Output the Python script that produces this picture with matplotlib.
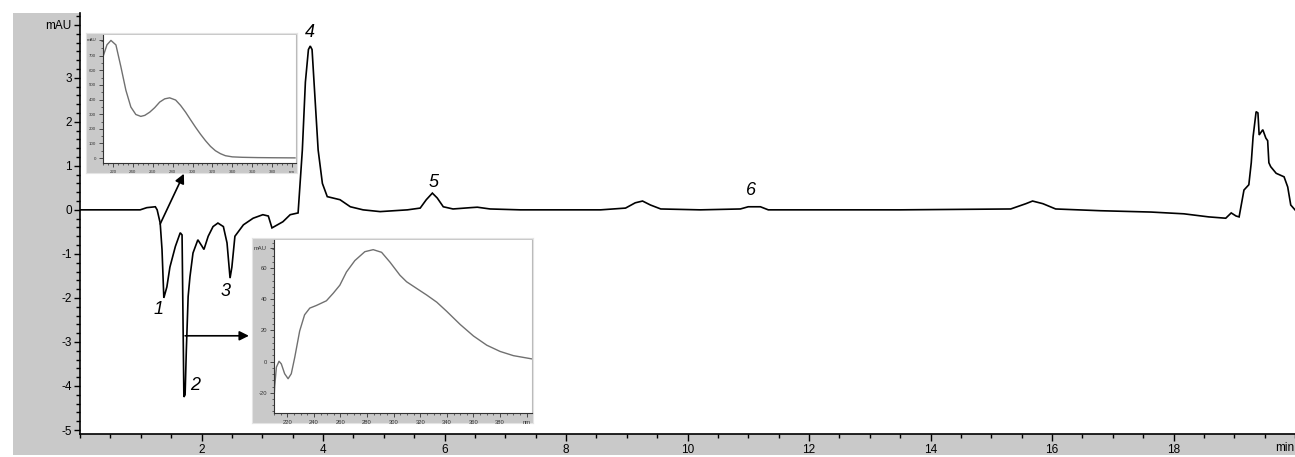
import matplotlib
matplotlib.use('Agg')
import matplotlib.pyplot as plt
from matplotlib.patches import Rectangle
from matplotlib.ticker import MultipleLocator, FixedLocator, FixedFormatter
import matplotlib.transforms as mtransforms

plt.rcParams['font.family'] = ['Liberation Sans', 'DejaVu Sans']

# ---- chromatogram (time in min, signal in mAU) ----
time_min = [0, 0.99, 1.10, 1.24, 1.27, 1.32, 1.35, 1.38, 1.43, 1.48, 1.57, 1.65, 1.68,
            1.71, 1.73, 1.75, 1.78, 1.81, 1.86, 1.94, 2.01, 2.04, 2.11, 2.19, 2.27,
            2.36, 2.42, 2.47, 2.50, 2.55, 2.69, 2.85, 3.01, 3.10, 3.16, 3.25, 3.34,
            3.46, 3.59, 3.66, 3.71, 3.76, 3.79, 3.82, 3.87, 3.92, 3.99, 4.07, 4.28,
            4.45, 4.66, 4.94, 5.39, 5.60, 5.70, 5.80, 5.88, 5.98, 6.14, 6.43, 6.54,
            6.75, 7.25, 8.57, 8.98, 9.14, 9.26, 9.39, 9.56, 10.21, 10.87, 11.0, 11.2,
            11.33, 13.5, 15.32, 15.57, 15.68, 15.85, 16.06, 16.8, 17.63, 18.17, 18.58,
            18.86, 18.95, 19.03, 19.08, 19.16, 19.24, 19.28, 19.31, 19.36, 19.39,
            19.41, 19.47, 19.52, 19.55, 19.57, 19.60, 19.69, 19.82, 19.88, 19.93, 20.0]
signal_mau = [0, 0, 0.05, 0.07, 0, -0.3, -0.9, -2.0, -1.75, -1.3, -0.83, -0.52, -0.57,
              -4.25, -4.2, -3.2, -1.97, -1.52, -0.98, -0.68, -0.83, -0.9, -0.6, -0.38, -0.3,
              -0.38, -0.75, -1.55, -1.3, -0.6, -0.34, -0.19, -0.11, -0.14, -0.41, -0.34, -0.27,
              -0.11, -0.07, 1.36, 2.9, 3.64, 3.72, 3.64, 2.5, 1.36, 0.6, 0.3, 0.23,
              0.07, 0, -0.04, 0, 0.04, 0.23, 0.38, 0.27, 0.07, 0.02, 0.05, 0.06,
              0.02, 0, 0, 0.04, 0.16, 0.2, 0.11, 0.02, 0, 0.02, 0.07, 0.07,
              0, 0, 0.02, 0.14, 0.2, 0.14, 0.02, -0.02, -0.05, -0.09, -0.16,
              -0.19, -0.07, -0.14, -0.16, 0.45, 0.57, 1.07, 1.66, 2.23, 2.2,
              1.7, 1.82, 1.63, 1.57, 1.07, 0.98, 0.83, 0.75, 0.52, 0.11, 0]

# ---- UV spectrum of peak 1 (inset, upper) ----
spec1_nm = [210, 214, 218, 223, 228, 233, 238, 243, 248, 252, 257, 262, 267, 272, 277,
            283, 288, 293, 298, 303, 308, 313, 318, 323, 328, 333, 340, 350, 365, 380, 403]
spec1_mau = [693, 775, 805, 774, 624, 464, 349, 298, 285, 292, 314, 345, 383, 405, 412,
             397, 360, 314, 262, 211, 163, 119, 80, 50, 30, 16, 8, 5, 3, 2, 1]

# ---- UV spectrum of peak 2 (inset, lower) ----
spec2_nm = [210, 210.5, 211.8, 213.8, 215.5, 218, 220.6, 223, 225.6, 229.3, 233, 236.9,
            241.9, 249.4, 254.5, 259.5, 264.5, 270.8, 278.3, 284.6, 290.9, 297.2, 304.7,
            309.7, 317.3, 324.8, 332.4, 339.9, 350, 360, 370, 380, 390, 404]
spec2_mau = [-24.6, -16, -3.6, 0.2, -1.5, -7.8, -11, -7.8, 2.7, 19.6, 30, 34.3,
             36, 39, 43.8, 49, 57.5, 64.8, 70.5, 71.8, 70.1, 63.8, 55.4,
             51.2, 46.9, 42.7, 38.1, 32.2, 23.8, 16.4, 10.5, 6.5, 3.8, 1.7]

peak_labels = ['1', '2', '3', '4', '5', '6']
peak_label_x = [1.29, 1.89, 2.40, 3.79, 5.82, 11.05]
peak_label_y = [-2.27, -3.98, -1.86, 4.02, 0.61, 0.43]

x_ticks = [2, 4, 6, 8, 10, 12, 14, 16, 18]
y_ticks = [-5, -4, -3, -2, -1, 0, 1, 2, 3]

W, H = 1295, 457
GRAY = '#c9c9c9'
fig = plt.figure(figsize=(W / 100, H / 100), dpi=100)
fig.patch.set_facecolor('white')


def fbox(x0, y0, x1, y1):
    return [x0 / W, 1 - y1 / H, (x1 - x0) / W, (y1 - y0) / H]


bg = Rectangle((13 / W, 1 - 455 / H), (W - 13) / W, (455 - 13) / H,
               transform=fig.transFigure, facecolor=GRAY, edgecolor='none', zorder=-10)
fig.patches.append(bg)

ax = fig.add_axes(fbox(80, 13, 1295, 434))
ax.set_facecolor('white')
ax.plot(time_min, signal_mau, color='black', lw=1.2, solid_joinstyle='miter')
ax.set_xlim(0, 20)
ax.set_ylim(-5.09, 4.47)
for s in ['top', 'right']:
    ax.spines[s].set_visible(False)
for s in ['left', 'bottom']:
    ax.spines[s].set_color('black')
    ax.spines[s].set_linewidth(1.2)

ax.yaxis.set_major_locator(FixedLocator(y_ticks + [4.2]))
ax.yaxis.set_major_formatter(FixedFormatter([str(v) for v in y_ticks] + ['mAU']))
ax.yaxis.set_minor_locator(MultipleLocator(0.2))
ax.xaxis.set_major_locator(FixedLocator(x_ticks))
ax.xaxis.set_major_formatter(FixedFormatter([str(v) for v in x_ticks]))
ax.xaxis.set_minor_locator(MultipleLocator(0.5))
ax.tick_params(axis='both', which='major', direction='out', length=5, width=1,
               labelsize=8.5, pad=2, colors='black')
ax.tick_params(axis='y', which='major', length=4)
ax.tick_params(axis='both', which='minor', direction='out', length=3, width=1)
trans = mtransforms.blended_transform_factory(ax.transData, ax.transAxes)
ax.text(19.98, -0.018, 'min', transform=trans, ha='right', va='top', fontsize=8.5)

for lab, lx, ly in zip(peak_labels, peak_label_x, peak_label_y):
    ax.text(lx, ly, lab, fontsize=13, style='italic', ha='center', va='center')

ax.annotate('', xy=(1.71, 0.82), xytext=(1.32, -0.32),
            arrowprops=dict(arrowstyle='-|>', color='black', lw=1.2, mutation_scale=14,
                            shrinkA=0, shrinkB=0))
ax.annotate('', xy=(2.78, -2.86), xytext=(1.73, -2.86),
            arrowprops=dict(arrowstyle='-|>', color='black', lw=1.2, mutation_scale=14,
                            shrinkA=0, shrinkB=0))


def make_inset(frame, box, nm, mau, ylim, yticks, ylabpos, yminor, fs):
    fa = fig.add_axes(frame)
    fa.set_facecolor(GRAY)
    fa.set_xticks([])
    fa.set_yticks([])
    for s in fa.spines.values():
        s.set_edgecolor('#e4e4e4')
        s.set_linewidth(0.8)
    ia = fig.add_axes(box)
    ia.set_facecolor('white')
    ia.plot(nm, mau, color='#707070', lw=1.0)
    ia.set_xlim(210, 404)
    ia.set_ylim(*ylim)
    ia.spines['top'].set_visible(False)
    ia.spines['right'].set_color('#bbbbbb')
    ia.spines['left'].set_color('#333333')
    ia.spines['bottom'].set_color('#333333')
    ia.spines['left'].set_linewidth(0.8)
    ia.spines['bottom'].set_linewidth(0.8)
    xt = [220, 240, 260, 280, 300, 320, 340, 360, 380, 400]
    ia.xaxis.set_major_locator(FixedLocator(xt))
    ia.xaxis.set_major_formatter(FixedFormatter([str(v) for v in xt[:-1]] + ['nm']))
    ia.xaxis.set_minor_locator(MultipleLocator(5))
    ia.yaxis.set_major_locator(FixedLocator(yticks + [ylabpos]))
    ia.yaxis.set_major_formatter(FixedFormatter([str(v) for v in yticks] + ['mAU']))
    ia.yaxis.set_minor_locator(MultipleLocator(yminor))
    ia.tick_params(axis='both', which='major', direction='out', length=3, width=0.6,
                   labelsize=fs, pad=2, colors='#333333')
    ia.tick_params(axis='both', which='minor', direction='out', length=1.5, width=0.5,
                   colors='#333333')
    return ia


make_inset(fbox(86, 33, 297, 173), fbox(103, 35, 296, 163), spec1_nm, spec1_mau,
           (-34, 842), [0, 100, 200, 300, 400, 500, 600, 700], 810, 50, 3.2)
make_inset(fbox(252, 238, 533, 423), fbox(274, 240, 532, 413), spec2_nm, spec2_mau,
           (-33, 78), [-20, 0, 20, 40, 60], 73, 4, 4.2)

fig.savefig('out.png', dpi=100, facecolor='white')
